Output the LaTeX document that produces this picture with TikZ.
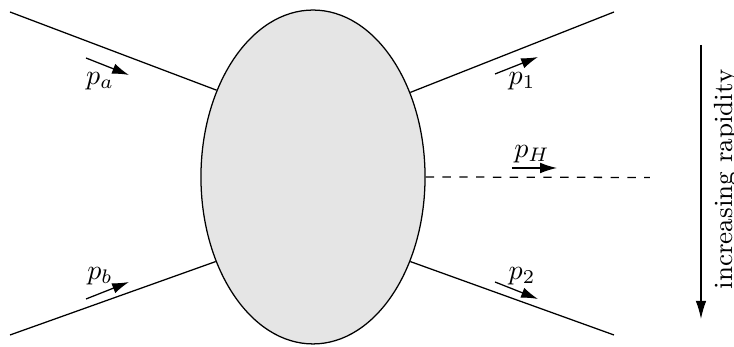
\documentclass[tikz,border=0pt]{standalone}
\usetikzlibrary{shapes.geometric,arrows.meta}
\begin{document}
\begin{tikzpicture}[x=0.357pt,y=-0.357pt,
  leg/.style={line width=0.45pt},
  mom/.style={line width=0.45pt,-{Latex[length=6pt,width=3.8pt]}},
  lbl/.style={inner sep=0pt,font=\fontsize{10.3}{12}\selectfont}]
\useasboundingbox (0,0) rectangle (734,347);
\node[ellipse,draw,line width=0.45pt,fill=black!10,inner sep=0pt,minimum width=80pt,minimum height=119.2pt] (blob) at (313,177) {};
\coordinate (a) at (10,12);
\coordinate (b) at (10,335);
\coordinate (o1) at (614,12);
\coordinate (o2) at (614,335);
\coordinate (h) at (650,177.5);
\draw[leg] (a) -- (blob.138.8);
\draw[leg] (b) -- (blob.221.2);
\draw[leg] (o1) -- (blob.41.2);
\draw[leg] (o2) -- (blob.-41.2);
\draw[leg,dashed] (blob.east) -- (h);
% momentum arrows
\coordinate (pas) at (86,58); \coordinate (pae) at (129,75);
\coordinate (pbs) at (86,299); \coordinate (pbe) at (129,282);
\coordinate (p1s) at (495,74); \coordinate (p1e) at (538,57);
\coordinate (p2s) at (495,282); \coordinate (p2e) at (538,299);
\coordinate (phs) at (512,168); \coordinate (phe) at (557,168);
\draw[mom] (pas) -- (pae);
\draw[mom] (pbs) -- (pbe);
\draw[mom] (p1s) -- (p1e);
\draw[mom] (p2s) -- (p2e);
\draw[mom] (phs) -- (phe);
\node[lbl] (la) at (100,81) {$p_a$};
\node[lbl] (lb) at (100,276) {$p_b$};
\node[lbl] (l1) at (522,81) {$p_1$};
\node[lbl] (l2) at (522,276) {$p_2$};
\node[lbl] (lh) at (532,154) {$p_H$};
% rapidity
\coordinate (rs) at (701,45);
\coordinate (re) at (701,319);
\draw[line width=0.45pt,-{Latex[length=6.5pt,width=3.8pt]}] (rs) -- (re);
\node[inner sep=0pt,rotate=90,anchor=base,font=\fontsize{9.4}{11}\selectfont] (rap) at (732.5,179.5) {increasing rapidity};
\end{tikzpicture}
\end{document}
